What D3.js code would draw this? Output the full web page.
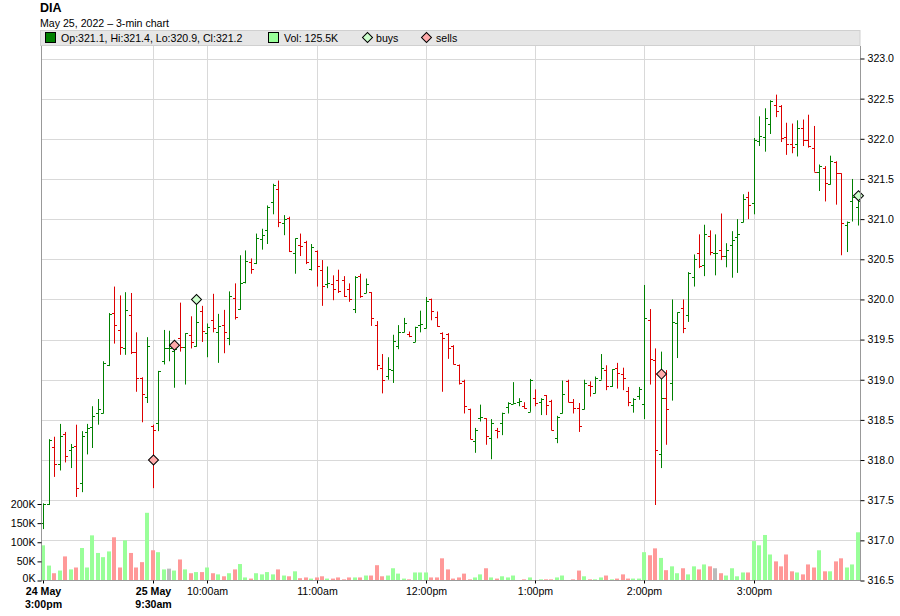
<!DOCTYPE html>
<html>
<head>
<meta charset="utf-8">
<script src="https://cdn.jsdelivr.net/npm/d3@7"></script>
<style>
  body { margin: 0; background: #fff; }
  svg { display: block; font-family: "Liberation Sans", Arial, sans-serif; }
</style>
</head>
<body>
<div id="chart"></div>
<script>
// DIA 3-min bars, 24 May 3:00pm .. 25 May 3:57pm
const open = [
  317.21, 317.45, 318.16, 317.95, 318.33, 318.13, 318.17, 317.71, 318.35, 318.41,
  318.58, 318.59, 319.18, 319.83, 319.62, 319.39, 319.80, 319.34, 319.02, 318.78,
  318.42, 318.46, 319.23, 319.39, 319.36, 319.52, 319.41, 319.56, 319.42, 319.85,
  319.58, 319.75, 319.59, 319.68, 319.52, 320.02, 319.88, 320.22, 320.47, 320.45,
  320.75, 320.86, 321.21, 321.38, 320.95, 321.02, 320.58, 320.68, 320.71, 320.38,
  320.60, 320.37, 320.19, 320.19, 320.24, 320.24, 320.13, 319.88, 320.29, 320.08,
  320.09, 319.68, 319.14, 319.05, 319.12, 319.42, 319.59, 319.57, 319.47, 319.68,
  319.64, 320.00, 319.78, 319.58, 319.57, 319.42, 319.18, 318.99, 318.63, 318.24,
  318.52, 318.52, 318.28, 318.38, 318.46, 318.66, 318.70, 318.72, 318.67, 318.60,
  318.77, 318.72, 318.81, 318.74, 318.28, 318.59, 318.99, 318.72, 318.65, 318.63,
  318.93, 318.83, 319.00, 319.12, 318.92, 319.14, 319.07, 318.86, 318.69, 318.80,
  318.70, 319.75, 319.25, 318.08, 318.77, 318.96, 319.71, 319.89, 319.80, 320.28,
  320.58, 320.43, 320.79, 320.58, 320.62, 320.54, 320.68, 320.78, 320.97, 321.28,
  321.20, 321.97, 322.02, 322.19, 322.42, 322.41, 322.02, 321.94, 321.94, 322.13,
  321.98, 321.89, 321.59, 321.64, 321.44, 321.71, 321.57, 320.93, 321.22, 321.15
];
const high = [
  317.46, 318.26, 318.29, 318.45, 318.35, 318.20, 318.44, 318.36, 318.45, 318.67,
  318.76, 319.23, 319.83, 320.16, 320.05, 320.09, 320.08, 319.59, 319.03, 319.53,
  318.44, 319.11, 319.62, 319.61, 319.45, 319.96, 319.58, 319.79, 319.95, 319.92,
  319.70, 320.07, 319.82, 319.87, 320.10, 320.20, 320.55, 320.61, 320.51, 320.82,
  320.88, 321.17, 321.44, 321.48, 321.05, 321.03, 320.76, 320.82, 320.73, 320.69,
  320.61, 320.49, 320.41, 320.30, 320.37, 320.29, 320.20, 320.29, 320.32, 320.26,
  320.09, 319.73, 319.32, 319.28, 319.56, 319.68, 319.77, 319.60, 319.66, 319.86,
  320.03, 320.01, 319.85, 319.59, 319.58, 319.43, 319.19, 319.00, 318.64, 318.40,
  318.69, 318.52, 318.51, 318.40, 318.59, 318.72, 318.97, 318.77, 318.72, 319.01,
  318.88, 318.77, 318.81, 318.75, 318.55, 318.99, 319.00, 318.76, 318.71, 319.00,
  318.98, 319.04, 319.32, 319.18, 319.13, 319.21, 319.15, 318.91, 318.77, 318.91,
  320.18, 319.88, 319.39, 319.35, 319.12, 320.00, 319.84, 320.00, 320.34, 320.56,
  320.81, 320.93, 320.86, 320.81, 321.07, 320.70, 320.85, 321.00, 321.31, 321.34,
  322.01, 322.28, 322.38, 322.48, 322.55, 322.42, 322.20, 322.19, 322.23, 322.24,
  322.30, 322.16, 321.68, 321.66, 321.79, 321.72, 321.57, 320.97, 321.50, 321.24
];
const low = [
  317.14, 317.44, 317.79, 317.87, 317.97, 317.90, 317.54, 317.60, 318.07, 318.15,
  318.44, 318.58, 319.17, 319.45, 319.31, 319.31, 319.32, 318.85, 318.47, 318.71,
  317.65, 318.36, 319.19, 319.23, 318.90, 319.35, 318.94, 319.39, 319.41, 319.47,
  319.28, 319.59, 319.21, 319.33, 319.43, 319.75, 319.87, 320.20, 320.32, 320.44,
  320.62, 320.69, 321.06, 320.90, 320.80, 320.59, 320.32, 320.54, 320.44, 320.36,
  320.16, 319.92, 320.14, 319.99, 320.08, 320.03, 319.97, 319.83, 320.02, 320.08,
  319.67, 319.12, 318.83, 319.00, 318.96, 319.38, 319.59, 319.53, 319.47, 319.59,
  319.64, 319.74, 319.66, 318.85, 319.26, 319.19, 318.94, 318.58, 318.26, 318.09,
  318.48, 318.19, 318.01, 318.27, 318.31, 318.58, 318.70, 318.67, 318.64, 318.60,
  318.67, 318.56, 318.56, 318.37, 318.21, 318.58, 318.72, 318.58, 318.35, 318.63,
  318.79, 318.83, 319.00, 318.87, 318.91, 318.89, 318.87, 318.67, 318.59, 318.75,
  318.51, 318.94, 317.44, 317.90, 318.19, 318.74, 319.27, 319.58, 319.72, 320.16,
  320.39, 320.29, 320.55, 320.30, 320.49, 320.40, 320.27, 320.33, 320.96, 321.00,
  321.06, 321.91, 321.84, 322.06, 322.27, 321.96, 321.80, 321.82, 321.78, 321.91,
  321.89, 321.59, 321.35, 321.22, 321.43, 321.18, 320.55, 320.59, 320.97, 320.92
];
const close = [
  317.45, 318.25, 317.95, 318.30, 318.05, 318.16, 317.65, 318.30, 318.40, 318.55,
  318.63, 319.21, 319.82, 319.68, 319.41, 319.87, 319.34, 319.02, 318.82, 319.42,
  318.38, 319.11, 319.39, 319.39, 319.38, 319.41, 319.58, 319.47, 319.72, 319.61,
  319.66, 319.64, 319.67, 319.59, 320.04, 319.78, 320.21, 320.48, 320.38, 320.76,
  320.80, 321.15, 321.42, 320.96, 321.00, 320.60, 320.76, 320.66, 320.47, 320.65,
  320.42, 320.17, 320.21, 320.13, 320.11, 320.04, 320.00, 320.28, 320.04, 320.19,
  319.77, 319.18, 319.00, 319.13, 319.48, 319.60, 319.71, 319.54, 319.66, 319.69,
  319.98, 319.85, 319.67, 319.52, 319.39, 319.19, 318.96, 318.67, 318.26, 318.37,
  318.53, 318.30, 318.46, 318.36, 318.58, 318.71, 318.71, 318.73, 318.65, 319.00,
  318.71, 318.76, 318.69, 318.37, 318.54, 318.82, 318.72, 318.65, 318.42, 318.96,
  318.92, 319.02, 319.14, 318.92, 319.13, 319.08, 319.02, 318.72, 318.76, 318.89,
  319.77, 319.26, 318.12, 318.77, 318.64, 319.72, 319.84, 319.65, 320.33, 320.50,
  320.41, 320.81, 320.59, 320.58, 320.54, 320.61, 320.74, 320.81, 321.25, 321.17,
  321.99, 322.04, 322.26, 322.47, 322.35, 322.01, 321.94, 321.90, 322.13, 321.98,
  321.91, 321.59, 321.66, 321.45, 321.72, 321.57, 320.95, 320.96, 321.28, 321.22
];
// volume in thousands of shares
const volume = [
  92, 39, 19, 26, 63, 29, 34, 85, 34, 118, 72, 61, 76, 113, 34, 105, 72, 34, 48, 177,
  79, 74, 29, 31, 26, 55, 29, 19, 22, 22, 34, 19, 16, 11, 19, 29, 43, 8, 5, 19,
  16, 22, 16, 29, 13, 11, 24, 6, 8, 5, 8, 11, 5, 5, 8, 3, 8, 8, 8, 13,
  13, 40, 11, 13, 32, 18, 5, 3, 21, 21, 21, 8, 8, 58, 29, 5, 8, 18, 3, 8,
  16, 32, 8, 5, 11, 8, 13, 1, 3, 8, 1, 3, 3, 3, 8, 13, 1, 3, 26, 11,
  3, 3, 8, 13, 3, 5, 16, 5, 5, 5, 74, 66, 84, 59, 27, 37, 19, 32, 16, 37,
  29, 42, 37, 32, 19, 13, 32, 11, 21, 21, 103, 92, 119, 68, 50, 37, 68, 24, 21, 16,
  42, 34, 79, 24, 24, 50, 58, 34, 42, 126
];

// trade markers: bar index and price
const buyIdx = [28, 149];
const buyPrice = [320.0, 321.29];
const sellIdx = [20, 24, 113];
const sellPrice = [318.0, 319.43, 319.07];

// time axis
const tickIdx = [0, 20, 30, 50, 70, 90, 110, 130];
const tickLine1 = ['24 May', '25 May', '10:00am', '11:00am', '12:00pm', '1:00pm', '2:00pm', '3:00pm'];
const tickLine2 = ['3:00pm', '9:30am', '', '', '', '', '', ''];
const priceTicks = [316.5, 317.0, 317.5, 318.0, 318.5, 319.0, 319.5, 320.0, 320.5, 321.0, 321.5, 322.0, 322.5, 323.0];
const volTicks = [0, 50, 100, 150, 200];

const W = 900, H = 616;
const pLeft = 41, pRight = 860, pTop = 46, pBottom = 580;
const FONT = '"Liberation Sans", Arial, sans-serif';

const svg = d3.select('#chart').append('svg')
    .attr('width', W)
    .attr('height', H);

const x = d3.scaleLinear().domain([0, open.length - 1]).range([43.3, 857.5]);
const y = d3.scaleLinear().domain([316.5, 323.0]).range([580.5, 58.5]);
const yv = d3.scaleLinear().domain([0, 200]).range([580.5, 504]);

const GREEN = '#008000', RED = '#dd0000';
const VGREEN = '#99ff99', VRED = '#ff9999', VGREY = '#bbbbbb';

// ---- header ----
svg.append('text').attr('x', 40).attr('y', 12)
    .attr('font-size', 12.5).attr('font-weight', 'bold').text('DIA');
svg.append('text').attr('x', 40).attr('y', 26.5)
    .attr('font-size', 10.6).text('May 25, 2022 \u2013 3-min chart');

// legend strip
const lg = svg.append('g');
lg.append('rect').attr('x', 40.5).attr('y', 30.5).attr('width', pRight - 40.5).attr('height', 15)
    .attr('fill', '#e6e6e6').attr('stroke', '#d0d0d0');
lg.append('rect').attr('x', 45.5).attr('y', 32.5).attr('width', 10).attr('height', 10)
    .attr('fill', GREEN).attr('stroke', '#000');
lg.append('text').attr('x', 61).attr('y', 42).attr('font-size', 10.6)
    .text('Op:321.1, Hi:321.4, Lo:320.9, Cl:321.2');
lg.append('rect').attr('x', 268.5).attr('y', 32.5).attr('width', 10).attr('height', 10)
    .attr('fill', VGREEN).attr('stroke', '#000');
lg.append('text').attr('x', 284).attr('y', 42).attr('font-size', 10.6)
    .text('Vol: 125.5K');

const diamond = d3.symbol().type(d3.symbolSquare).size(50);
lg.append('path').attr('d', diamond()).attr('transform', 'translate(367.5,37.5) rotate(45)')
    .attr('fill', '#ccffcc').attr('stroke', '#000');
lg.append('text').attr('x', 376).attr('y', 42).attr('font-size', 10.6).text('buys');
lg.append('path').attr('d', diamond()).attr('transform', 'translate(426.5,37.5) rotate(45)')
    .attr('fill', '#ffaaaa').attr('stroke', '#000');
lg.append('text').attr('x', 436).attr('y', 42).attr('font-size', 10.6).text('sells');

// ---- grid ----
const grid = svg.append('g').attr('stroke', '#d9d9d9').attr('stroke-width', 1);
grid.selectAll('.hg').data(priceTicks.slice(1)).enter().append('line')
    .attr('x1', pLeft).attr('x2', pRight)
    .attr('y1', (d) => Math.round(y(d)) + 0.5).attr('y2', (d) => Math.round(y(d)) + 0.5);
grid.selectAll('.vg').data(tickIdx.slice(1)).enter().append('line')
    .attr('x1', (d) => Math.round(x(d)) + 0.5).attr('x2', (d) => Math.round(x(d)) + 0.5)
    .attr('y1', pTop).attr('y2', pBottom);

// ---- volume bars ----
const volColor = (i) => close[i] > open[i] ? VGREEN : (close[i] < open[i] ? VRED : VGREY);
svg.append('g').selectAll('rect').data(volume).enter().append('rect')
    .attr('x', (d, i) => Math.round(x(i)) - 2)
    .attr('width', 4)
    .attr('y', (d) => yv(d))
    .attr('height', (d) => yv(0) - yv(d))
    .attr('fill', (d, i) => volColor(i));

// ---- OHLC bars ----
const bars = svg.append('g').attr('stroke-width', 1).attr('fill', 'none');
const barColor = (i) => close[i] >= open[i] ? GREEN : RED;
const bx = (i) => Math.round(x(i)) + 0.5;
bars.selectAll('.hl').data(open).enter().append('line')
    .attr('x1', (d, i) => bx(i)).attr('x2', (d, i) => bx(i))
    .attr('y1', (d, i) => y(high[i])).attr('y2', (d, i) => y(low[i]))
    .attr('stroke', (d, i) => barColor(i));
bars.selectAll('.op').data(open).enter().append('line')
    .attr('x1', (d, i) => bx(i) - 2.5).attr('x2', (d, i) => bx(i))
    .attr('y1', (d) => Math.round(y(d)) + 0.5).attr('y2', (d) => Math.round(y(d)) + 0.5)
    .attr('stroke', (d, i) => barColor(i));
bars.selectAll('.cl').data(close).enter().append('line')
    .attr('x1', (d, i) => bx(i)).attr('x2', (d, i) => bx(i) + 2.5)
    .attr('y1', (d) => Math.round(y(d)) + 0.5).attr('y2', (d) => Math.round(y(d)) + 0.5)
    .attr('stroke', (d, i) => barColor(i));

// ---- trade markers ----
const mk = svg.append('g');
mk.selectAll('.buy').data(buyIdx).enter().append('path')
    .attr('d', diamond())
    .attr('transform', (d, i) => `translate(${bx(d)},${y(buyPrice[i])}) rotate(45)`)
    .attr('fill', '#ccffcc').attr('stroke', '#000');
mk.selectAll('.sell').data(sellIdx).enter().append('path')
    .attr('d', diamond())
    .attr('transform', (d, i) => `translate(${bx(d)},${y(sellPrice[i])}) rotate(45)`)
    .attr('fill', '#ffaaaa').attr('stroke', '#000');

// ---- axes ----
const axisCol = '#999';
svg.append('line').attr('x1', pLeft + 0.5).attr('x2', pLeft + 0.5).attr('y1', pTop).attr('y2', pBottom + 0.5)
    .attr('stroke', axisCol);
svg.append('line').attr('x1', pRight + 0.5).attr('x2', pRight + 0.5).attr('y1', pTop).attr('y2', pBottom + 0.5)
    .attr('stroke', axisCol);
svg.append('line').attr('x1', pLeft).attr('x2', pRight + 1).attr('y1', pBottom + 0.5).attr('y2', pBottom + 0.5)
    .attr('stroke', axisCol);

// right price axis
const ra = svg.append('g')
    .attr('transform', `translate(${pRight + 0.5},0)`)
    .call(d3.axisRight(y).tickValues(priceTicks).tickFormat(d3.format('.1f')).tickSize(4).tickPadding(3));
ra.select('.domain').remove();
ra.selectAll('text').attr('font-size', 10.6).attr('font-family', FONT).attr('fill', '#000');

// left volume axis
const la = svg.append('g')
    .attr('transform', `translate(${pLeft + 0.5},0)`)
    .call(d3.axisLeft(yv).tickValues(volTicks).tickFormat((d) => d + 'K').tickSize(4).tickPadding(2));
la.select('.domain').remove();
la.selectAll('text').attr('font-size', 10.6).attr('font-family', FONT).attr('fill', '#000');
// keep the "0K" label clear of the date label below it
la.selectAll('text').filter((d) => d === 0).attr('dy', '0.1em');

// bottom time axis
const ba = svg.append('g')
    .attr('transform', `translate(0,${pBottom + 0.5})`)
    .call(d3.axisBottom(x).tickValues(tickIdx).tickFormat('').tickSize(3));
ba.select('.domain').remove();
ba.selectAll('.tick').attr('transform', (d) => `translate(${bx(d)},0)`);
const bl = svg.append('g').attr('font-size', 10.6).attr('text-anchor', 'middle');
bl.selectAll('.l1').data(tickIdx).enter().append('text')
    .attr('x', (d) => bx(d)).attr('y', 594.5)
    .attr('font-weight', (d, i) => tickLine2[i] ? 'bold' : 'normal')
    .text((d, i) => tickLine1[i]);
bl.selectAll('.l2').data(tickIdx.filter((d, i) => tickLine2[i])).enter().append('text')
    .attr('x', (d) => bx(d)).attr('y', 607.5)
    .attr('font-weight', 'bold')
    .text((d) => tickLine2[tickIdx.indexOf(d)]);
</script>
</body>
</html>
